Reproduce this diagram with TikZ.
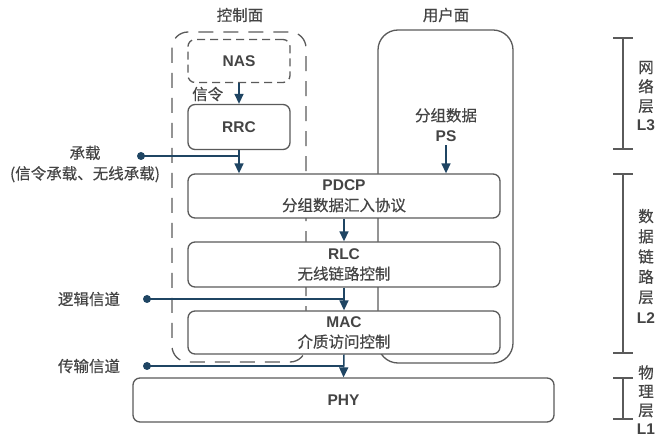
\documentclass[tikz,border=0pt]{standalone}
\usepackage{fontspec}
\setmainfont{Liberation Sans}
\newfontfamily\cjk[FakeBold=0.4]{Noto Sans CJK SC}
\usetikzlibrary{arrows.meta}
\definecolor{txt}{HTML}{444444}
\definecolor{bord}{HTML}{5A5A5A}
\definecolor{arr}{HTML}{1F4563}
\newcommand\myfs{\fontsize{15.5}{20.5}\selectfont}
\begin{document}
\begin{tikzpicture}[x=1pt,y=-1pt,
  box/.style={draw=bord, line width=1.3pt, rounded corners=7pt, fill=white, align=center, text=txt, inner sep=0pt, font=\myfs},
  lab/.style={text=txt, align=center, inner sep=0pt, font=\myfs\cjk},
  arrline/.style={draw=arr, line width=1.5pt, -{Triangle[length=10pt,width=9pt]}},
  plainline/.style={draw=arr, line width=1.5pt},
  dot/.style={circle, fill=arr, minimum size=8pt, inner sep=0pt},
  brk/.style={draw=bord, line width=1.3pt},
]
\useasboundingbox (0,0) rectangle (659,438);
% planes
\draw[draw=bord, line width=1.3pt, rounded corners=20pt] (378,30) rectangle (513,363);
\draw[draw=bord, line width=1.3pt, dash pattern=on 15pt off 10pt, rounded corners=16pt] (172,32) rectangle (306,362);
\node[lab] (cp) at (240,15) {控制面};
\node[lab] (up) at (446,15) {用户面};
% boxes
\node[box, dashed, dash pattern=on 8pt off 5pt, minimum width=102pt, minimum height=43pt] (nas) at (239,61) {\textbf{NAS}};
\node[box, minimum width=102pt, minimum height=45pt] (rrc) at (239,127) {\textbf{RRC}};
\node[box, minimum width=312pt, minimum height=44pt] (pdcp) at (344,196) {\textbf{PDCP}\\{\cjk 分组数据汇入协议}};
\node[box, minimum width=312pt, minimum height=45pt] (rlc) at (344,264.5) {\textbf{RLC}\\{\cjk 无线链路控制}};
\node[box, minimum width=312pt, minimum height=43pt] (mac) at (344,332.5) {\textbf{MAC}\\{\cjk 介质访问控制}};
\node[box, minimum width=421pt, minimum height=44pt] (phy) at (343.5,400) {\textbf{PHY}};
% labels
\node[lab, anchor=west] (sig) at (192,94) {信令};
\node[lab, inner sep=3pt] (ps) at (446,125) {分组数据\\{\rmfamily\bfseries PS}};
\node[lab] (bear) at (85,164) {承载\\(信令承载、无线承载)};
\node[lab] (lch) at (89,299) {逻辑信道};
\node[lab] (tch) at (89,366) {传输信道};
% dots
\node[dot] (d1) at (141,156) {};
\node[dot] (d2) at (147,299) {};
\node[dot] (d3) at (147,366) {};
% arrows
\draw[arrline] (nas.south) -- (rrc.north);
\draw[arrline] (rrc.south) -- (rrc.south |- pdcp.north);
\draw[plainline] (d1.center) -- (d1 -| rrc.south);
\draw[arrline] (ps.south) -- (ps.south |- pdcp.north);
\draw[arrline] (pdcp.south) -- (rlc.north);
\draw[arrline] (rlc.south) -- (mac.north);
\draw[arrline] (mac.south) -- (phy.north);
\draw[plainline] (d2.center) -- (d2 -| mac.north);
\draw[plainline] (d3.center) -- (d3 -| phy.north);
% layer brackets
\draw[brk] (623,38) -- (623,149) (613,38) -- (633,38) (613,149) -- (633,149);
\draw[brk] (623,174) -- (623,353) (613,174) -- (633,174) (613,353) -- (633,353);
\draw[brk] (623,378) -- (623,419) (613,378) -- (633,378) (613,419) -- (633,419);
\node[lab, font=\fontsize{15.5}{19.3}\selectfont\cjk] (l3) at (646,96) {网\\络\\层\\{\rmfamily\bfseries L3}};
\node[lab, font=\fontsize{15.5}{20.2}\selectfont\cjk] (l2) at (646,266) {数\\据\\链\\路\\层\\{\rmfamily\bfseries L2}};
\node[lab, font=\fontsize{15.5}{18.8}\selectfont\cjk] (l1) at (646,400) {物\\理\\层\\{\rmfamily\bfseries L1}};
\end{tikzpicture}
\end{document}
